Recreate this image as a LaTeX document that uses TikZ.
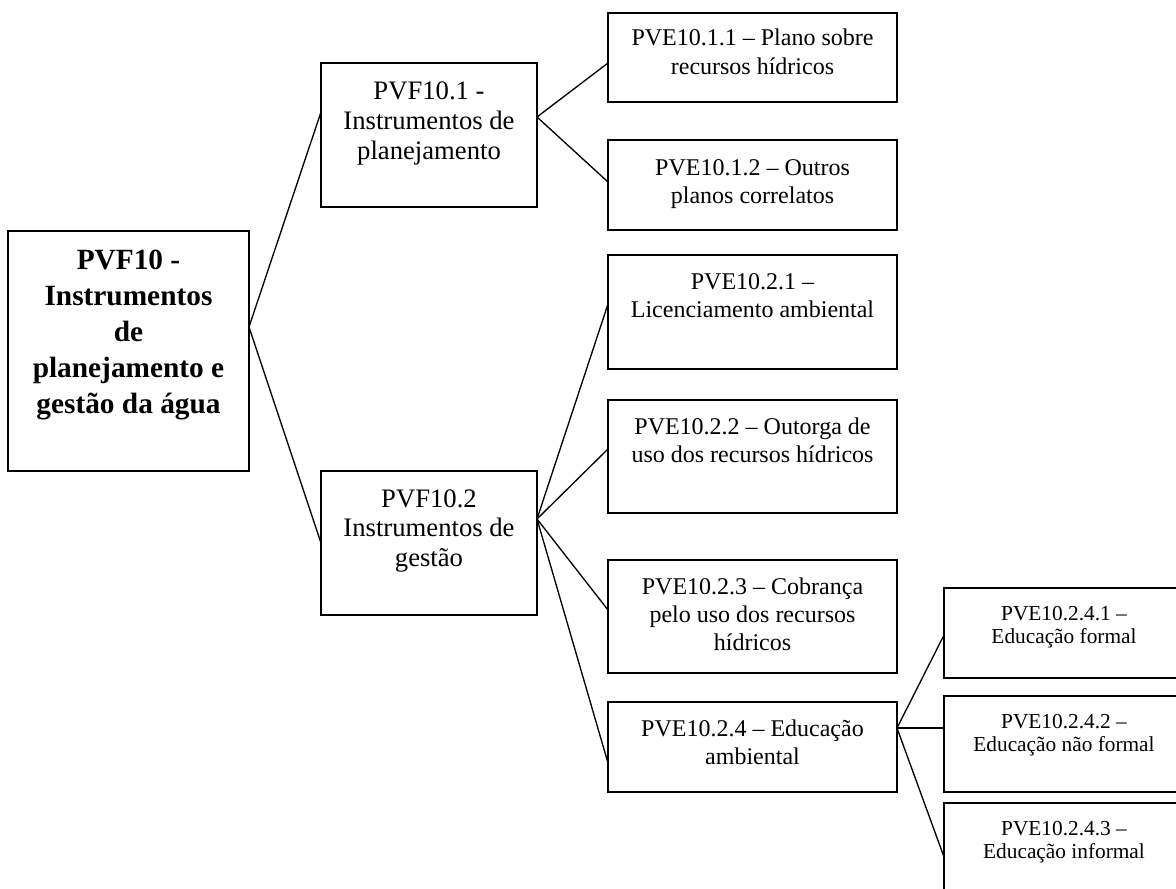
\documentclass[tikz,border=0pt]{standalone}
\usepackage{fontspec}
\setmainfont{Liberation Serif}
\usetikzlibrary{calc}
\newcommand{\rootfont}{\fontsize{22}{27}\selectfont\bfseries}
\newcommand{\lvlfont}{\fontsize{20}{22.3}\selectfont}
\newcommand{\pvefont}{\fontsize{18}{21.2}\selectfont}
\newcommand{\subfont}{\fontsize{16}{17.5}\selectfont}
\tikzset{
  box/.style={draw, line width=1.4pt, inner sep=0pt, outer sep=0pt},
  txt/.style={anchor=base, inner sep=0pt, outer sep=0pt},
  conn/.style={draw, line width=1pt}
}
\begin{document}
\begin{tikzpicture}[x=0.75pt,y=-0.75pt]
\clip (0,0) rectangle (1176,888);
\fill[white] (0,0) rectangle (1176,888);
% boxes
\node[box, minimum width=241*0.75pt, minimum height=240*0.75pt] (root) at (128.5,351) {};
\node[box, minimum width=216*0.75pt, minimum height=144*0.75pt] (p1) at (429,135) {};
\node[box, minimum width=216*0.75pt, minimum height=144*0.75pt] (p2) at (429,543) {};
\node[box, minimum width=289*0.75pt, minimum height=89*0.75pt] (e11) at (752.5,57.5) {};
\node[box, minimum width=289*0.75pt, minimum height=90*0.75pt] (e12) at (752.5,185) {};
\node[box, minimum width=289*0.75pt, minimum height=114*0.75pt] (e21) at (752.5,312) {};
\node[box, minimum width=289*0.75pt, minimum height=113*0.75pt] (e22) at (752.5,456.5) {};
\node[box, minimum width=289*0.75pt, minimum height=113*0.75pt] (e23) at (752.5,616.5) {};
\node[box, minimum width=289*0.75pt, minimum height=90*0.75pt] (e24) at (752.5,747) {};
\node[box, minimum width=240*0.75pt, minimum height=90*0.75pt] (s1) at (1064,633) {};
\node[box, minimum width=240*0.75pt, minimum height=96*0.75pt] (s2) at (1064,744) {};
\node[box, minimum width=240*0.75pt, minimum height=92*0.75pt] (s3) at (1064,849) {};
% texts
\node[txt] (troot) at ($(root.north)+(0,38)$) {\parbox[t]{180pt}{\centering\rootfont PVF10 -\\Instrumentos\\de\\planejamento e\\gestão da água}};
\node[txt] (tp1) at ($(p1.north)+(0,37)$) {\parbox[t]{160pt}{\centering\lvlfont PVF10.1 -\\Instrumentos de\\planejamento}};
\node[txt] (tp2) at ($(p2.north)+(0,36)$) {\parbox[t]{160pt}{\centering\lvlfont PVF10.2\\Instrumentos de\\gestão}};
\node[txt] (te11) at ($(e11.north)+(0,33)$) {\parbox[t]{215pt}{\centering\pvefont PVE10.1.1 – Plano sobre\\recursos hídricos}};
\node[txt] (te12) at ($(e12.north)+(0,35)$) {\parbox[t]{215pt}{\centering\pvefont PVE10.1.2 – Outros\\planos correlatos}};
\node[txt] (te21) at ($(e21.north)+(0,34)$) {\parbox[t]{215pt}{\centering\pvefont PVE10.2.1 –\\Licenciamento ambiental}};
\node[txt] (te22) at ($(e22.north)+(0,34)$) {\parbox[t]{215pt}{\centering\pvefont PVE10.2.2 – Outorga de\\uso dos recursos hídricos}};
\node[txt] (te23) at ($(e23.north)+(0,34)$) {\parbox[t]{215pt}{\centering\pvefont PVE10.2.3 – Cobrança\\pelo uso dos recursos\\hídricos}};
\node[txt] (te24) at ($(e24.north)+(0,34)$) {\parbox[t]{215pt}{\centering\pvefont PVE10.2.4 – Educação\\ambiental}};
\node[txt] (ts1) at ($(s1.north)+(0,32)$) {\parbox[t]{178pt}{\centering\subfont PVE10.2.4.1 –\\Educação formal}};
\node[txt] (ts2) at ($(s2.north)+(0,32)$) {\parbox[t]{178pt}{\centering\subfont PVE10.2.4.2 –\\Educação não formal}};
\node[txt] (ts3) at ($(s3.north)+(0,32)$) {\parbox[t]{178pt}{\centering\subfont PVE10.2.4.3 –\\Educação informal}};
% connector end points
\coordinate (ro) at ($(root.north east)+(0,96)$);
\coordinate (p1i) at ($(p1.north west)+(0,49)$);
\coordinate (p1o) at ($(p1.north east)+(0,54)$);
\coordinate (p2i) at ($(p2.north west)+(0,72)$);
\coordinate (p2o) at ($(p2.north east)+(0,48)$);
\coordinate (e11i) at ($(e11.north west)+(0,50)$);
\coordinate (e12i) at ($(e12.north west)+(0,42)$);
\coordinate (e21i) at ($(e21.north west)+(0,49)$);
\coordinate (e22i) at ($(e22.north west)+(0,49)$);
\coordinate (e23i) at ($(e23.north west)+(0,50)$);
\coordinate (e24i) at ($(e24.north west)+(0,61)$);
\coordinate (e24o) at ($(e24.north east)+(0,26)$);
\coordinate (s1i) at ($(s1.north west)+(0,47)$);
\coordinate (s2i) at ($(s2.north west)+(0,32)$);
\coordinate (s3i) at ($(s3.north west)+(0,54)$);
% connectors
\draw[conn] (ro) -- (p1i);
\draw[conn] (ro) -- (p2i);
\draw[conn] (p1o) -- (e11i);
\draw[conn] (p1o) -- (e12i);
\draw[conn] (p2o) -- (e21i);
\draw[conn] (p2o) -- (e22i);
\draw[conn] (p2o) -- (e23i);
\draw[conn] (p2o) -- (e24i);
\draw[conn] (e24o) -- (s1i);
\draw[conn] (e24o) -- (s2i);
\draw[conn] (e24o) -- (s3i);
\end{tikzpicture}
\end{document}
